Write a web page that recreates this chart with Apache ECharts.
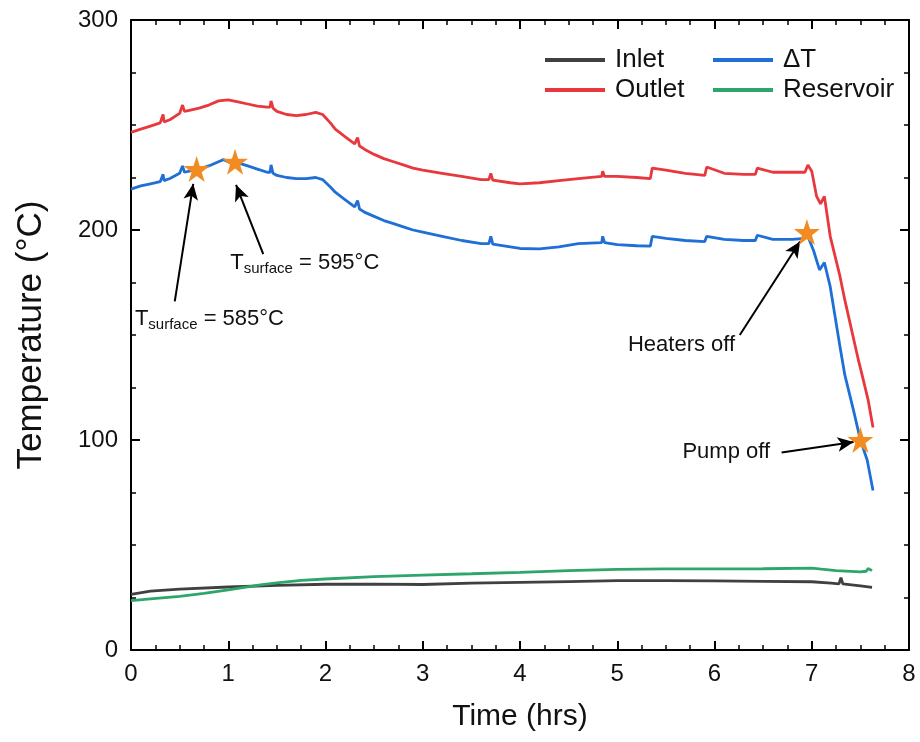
<!DOCTYPE html>
<html>
<head>
<meta charset="utf-8">
<script src="https://cdn.jsdelivr.net/npm/echarts@6/dist/echarts.min.js"></script>
<style>
html,body{margin:0;padding:0;background:#fff;}
#c{width:920px;height:742px;}
</style>
</head>
<body>
<div id="c"></div>
<script>
// ---- data ----
var outletTime = [0.0,0.1,0.2,0.3,0.32,0.33,0.34,0.4,0.5,0.52,0.53,0.55,0.6,0.7,0.8,0.9,1.0,1.1,1.2,1.3,1.4,1.43,1.44,1.46,1.5,1.6,1.7,1.8,1.9,1.97,2.05,2.1,2.2,2.3,2.32,2.33,2.35,2.4,2.5,2.6,2.7,2.8,2.9,3.0,3.2,3.4,3.6,3.68,3.7,3.72,3.9,4.0,4.2,4.4,4.6,4.84,4.85,4.87,5.0,5.2,5.34,5.36,5.5,5.7,5.9,5.92,6.1,6.3,6.42,6.44,6.6,6.8,6.93,6.96,7.0,7.05,7.09,7.13,7.19,7.29,7.34,7.48,7.53,7.58,7.63];
var outletTemp = [246.5,248,249.5,251,251.5,255,251.5,252.5,255.5,256,259.5,256.5,257,258,259.5,261.5,262,261,260,259,258.5,258.5,261.5,258,256.5,255,254.5,255,256,255,251,248,244.5,241,240.5,244,240,238.5,236,234,232.5,231,229.5,228.5,227,225.5,224,224,227,223.8,222.5,222,222.5,223.5,224.5,225.5,228,225.5,225.5,225,224.5,229.5,228.5,227,226,230,227,226.5,226.5,229.5,227.5,227.5,227.5,231,228,216,212.5,216,197,178,166.7,138,128.6,119,106];

var deltaTime = [0.0,0.1,0.2,0.3,0.32,0.33,0.34,0.4,0.5,0.52,0.53,0.55,0.6,0.7,0.8,0.9,0.95,1.0,1.1,1.2,1.3,1.4,1.43,1.44,1.46,1.5,1.6,1.7,1.8,1.9,1.97,2.05,2.1,2.2,2.3,2.32,2.33,2.35,2.4,2.5,2.6,2.7,2.8,2.9,3.0,3.2,3.4,3.6,3.68,3.7,3.72,3.9,4.0,4.2,4.4,4.6,4.84,4.85,4.87,5.0,5.2,5.34,5.36,5.5,5.7,5.9,5.92,6.1,6.3,6.42,6.44,6.6,6.8,6.93,6.96,7.02,7.08,7.13,7.19,7.29,7.34,7.43,7.5,7.57,7.63];
var deltaTemp = [219.5,221,222,223,223.5,226.5,223.5,224.5,227,227.5,230.5,227.5,228,229,230.5,232.5,233.5,232.5,232,230.5,229,227.5,227.5,231,227,226,225,224.5,224.5,225,224,220.5,218,214.5,211,210.5,214,210,208.5,206.5,204.5,203,201.5,200,199,197,195,193.5,193.5,197,193.3,192,191.2,191,192,193.5,194,197,194,193,192.5,192.3,197,196,195,194.5,197,195.5,195,195,197.5,195.5,195.5,196,197,190,181,184.5,173,144.5,131,114,100,90.5,76];

var inletTime = [0.0,0.2,0.5,1.0,1.5,2.0,2.5,3.0,3.5,4.0,4.5,5.0,5.5,6.0,6.5,7.0,7.2,7.28,7.3,7.32,7.5,7.62];
var inletTemp = [26.5,28,29,30,30.8,31.3,31.4,31.2,31.8,32.2,32.6,33,33,32.9,32.7,32.5,31.8,31.5,34.5,31.5,30.5,29.8];

var reservoirTime = [0.0,0.2,0.5,0.75,1.0,1.33,1.5,1.75,2.0,2.5,3.0,3.5,4.0,4.5,5.0,5.5,6.0,6.5,7.0,7.1,7.25,7.5,7.56,7.58,7.62];
var reservoirTemp = [23.5,24.3,25.5,27,28.6,31,32,33.2,33.8,34.9,35.7,36.3,37,37.8,38.4,38.6,38.6,38.7,39,38.5,37.8,37.2,37.5,38.8,37.8];

var starTime = [0.675, 1.07, 6.95, 7.5];
var starTemp = [229, 232.5, 199, 100];

var noteText = ['585', '595', 'Heaters off', 'Pump off'];
var noteTime = [0.04, 1.02, 5.11, 5.67];
var noteTemp = [157.5, 184.5, 145.5, 94.5];
var arrowFrom = [[0.45, 166], [1.36, 188.5], [6.26, 150], [6.69, 94]];
var arrowTo = [[0.64, 222], [1.08, 221.5], [6.88, 194.5], [7.43, 99]];

var xTicks = [0,1,2,3,4,5,6,7,8];
var yTicks = [0,100,200,300];

function pairs(xs, ys){ return xs.map(function(x,i){ return [x, ys[i]]; }); }

var FONT = 'Liberation Sans, Arial, sans-serif';
var colors = {Inlet:'#404040', Outlet:'#e8383d', '\u0394T':'#1f6fd6', Reservoir:'#2ea56b'};

function lineSeries(name, xs, ys){
  return {name:name, type:'line', data:pairs(xs,ys), symbol:'none', showSymbol:false,
    lineStyle:{width:2.8, color:colors[name]}, itemStyle:{color:colors[name]}, z:3, animation:false};
}

var starPath = 'path://M50,0 L61.8,35.4 L99,35.4 L69,57.3 L80.4,92.7 L50,70.8 L19.6,92.7 L31,57.3 L1,35.4 L38.2,35.4 Z';

var chart = echarts.init(document.getElementById('c'), null, {renderer:'canvas'});

var arrowLines = arrowFrom.map(function(f,i){
  return [{coord:f}, {coord:arrowTo[i]}];
});

var notesData = noteText.map(function(t,i){ return {value:[noteTime[i], noteTemp[i]], txt:t}; });

var axisCommon = {
  min:0, axisLine:{show:true, onZero:false, lineStyle:{color:'#000', width:2}},
  axisTick:{show:true, inside:true, length:9, lineStyle:{color:'#000', width:2}},
  minorTick:{show:true, splitNumber:4, length:5, lineStyle:{color:'#000', width:1.5}},
  splitLine:{show:false}
};

var legendText = {fontFamily:FONT, fontSize:26, color:'#111', padding:[0,0,0,5]};

var option = {
  backgroundColor:'#fff',
  animation:false,
  grid:{left:131, right:11, top:20, bottom:92, containLabel:false},
  legend:[
    {data:['Inlet','Outlet'], orient:'vertical', left:540, top:42, itemWidth:60, itemHeight:4, icon:'rect', itemGap:4,
     textStyle:legendText},
    {data:['\u0394T','Reservoir'], orient:'vertical', left:708, top:42, itemWidth:60, itemHeight:4, icon:'rect', itemGap:4,
     textStyle:legendText}
  ],
  xAxis:[
    Object.assign({}, axisCommon, {type:'value', max:8, interval:1, position:'bottom',
      name:'Time (hrs)', nameLocation:'middle', nameGap:52,
      nameTextStyle:{fontFamily:FONT, fontSize:30, color:'#111'},
      axisLabel:{fontFamily:FONT, fontSize:24, color:'#111', margin:12,
        formatter:function(v){ return xTicks.indexOf(v) >= 0 ? String(v) : ''; }}}),
    Object.assign({}, axisCommon, {type:'value', max:8, interval:1, position:'top', axisLabel:{show:false}})
  ],
  yAxis:[
    Object.assign({}, axisCommon, {type:'value', max:300, interval:100, position:'left',
      name:'Temperature (\u00b0C)', nameLocation:'middle', nameGap:82,
      nameTextStyle:{fontFamily:FONT, fontSize:35, color:'#111'},
      axisLabel:{fontFamily:FONT, fontSize:24, color:'#111', margin:13,
        formatter:function(v){ return yTicks.indexOf(v) >= 0 ? String(v) : ''; }}}),
    Object.assign({}, axisCommon, {type:'value', max:300, interval:100, position:'right', axisLabel:{show:false}})
  ],
  series:[
    lineSeries('Inlet', inletTime, inletTemp),
    lineSeries('Outlet', outletTime, outletTemp),
    lineSeries('\u0394T', deltaTime, deltaTemp),
    lineSeries('Reservoir', reservoirTime, reservoirTemp),
    {
      name:'stars', type:'scatter', data:pairs(starTime, starTemp), symbol:starPath, symbolSize:26,
      itemStyle:{color:'#f28b22', opacity:1}, z:6, silent:true,
      markLine:{silent:true, symbol:['none','arrow'], symbolSize:[11,16], animation:false,
        lineStyle:{color:'#000', width:2, type:'solid', opacity:1}, label:{show:false}, data:arrowLines}
    },
    {
      name:'notes', type:'scatter', data:notesData, symbolSize:0, silent:true, z:7,
      itemStyle:{opacity:1},
      label:{show:true, position:[0,0], align:'left', verticalAlign:'middle', color:'#111',
        formatter:function(p){
          var t = p.data.txt;
          if (t === '585' || t === '595') return '{a|T}{b|surface}{a| = ' + t + '\u00b0C}';
          return '{c|' + t + '}';
        },
        rich:{
          a:{fontFamily:FONT, fontSize:22, color:'#111'},
          b:{fontFamily:FONT, fontSize:15, color:'#111', verticalAlign:'bottom', padding:[12,0,0,0]},
          c:{fontFamily:FONT, fontSize:22, color:'#111'}
        }}
    }
  ]
};
chart.setOption(option);
</script>
</body>
</html>
